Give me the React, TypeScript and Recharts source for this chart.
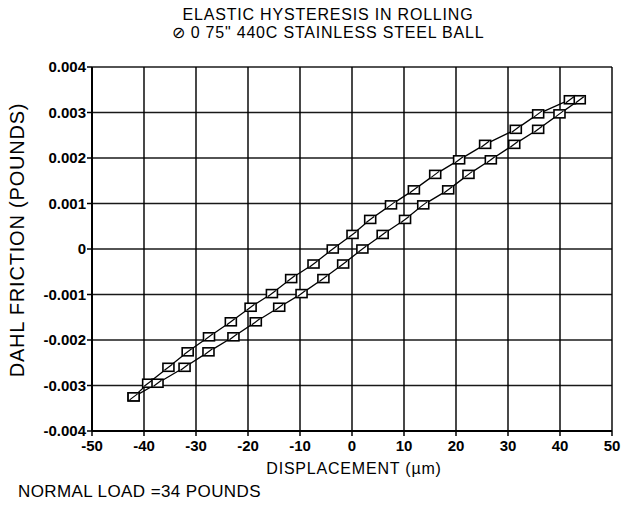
import React from 'react';
import { ScatterChart, Scatter, XAxis, YAxis, CartesianGrid } from 'recharts';

// loop goes up the left branch, then back down the right branch
const upperX = [-42, -39.2, -35.3, -31.6, -27.5, -23.3, -19.5, -15.4, -11.7, -7.4, -3.7, 0.1, 3.5, 7.5, 11.9, 16, 20.6, 25.6, 31.5, 35.8, 41.9];
const upperY = [-0.00325, -0.00295, -0.0026, -0.00226, -0.00193, -0.0016, -0.00128, -0.00098, -0.00065, -0.00033, 0, 0.00032, 0.00065, 0.00097, 0.0013, 0.00164, 0.00196, 0.0023, 0.00263, 0.00297, 0.00328];
const lowerX = [43.8, 39.9, 35.8, 31.2, 26.7, 22.4, 18.5, 13.7, 10.2, 5.9, 2, -1.7, -5.5, -9.7, -14, -18.5, -22.8, -27.6, -32.2, -37.4, -42];
const lowerY = [0.00328, 0.00297, 0.00263, 0.0023, 0.00196, 0.00164, 0.0013, 0.00097, 0.00065, 0.00032, 0, -0.00033, -0.00065, -0.00098, -0.00128, -0.0016, -0.00193, -0.00226, -0.0026, -0.00295, -0.00325];

const xTicks = [-50, -40, -30, -20, -10, 0, 10, 20, 30, 40, 50];
const yTicks = [-0.004, -0.003, -0.002, -0.001, 0, 0.001, 0.002, 0.003, 0.004];

const loop = [
  ...upperX.map((x, i) => ({ x, y: upperY[i] })),
  ...lowerX.map((x, i) => ({ x, y: lowerY[i] })),
];

const font = '"Liberation Sans", Arial, sans-serif';

function SlashBox(props: any) {
  const { cx, cy } = props;
  if (cx == null || cy == null) return null;
  return (
    <g>
      <rect x={cx - 5.5} y={cy - 4} width={11} height={8} fill="#fff" stroke="#000" strokeWidth={1.6} />
      <line x1={cx - 4} y1={cy + 3} x2={cx + 4} y2={cy - 3} stroke="#000" strokeWidth={1.2} />
    </g>
  );
}

const fmtY = (v: number) => (v === 0 ? '0' : v.toFixed(3));

const tickStyle = { fill: '#000', fontSize: 15, fontWeight: 'bold', fontFamily: font };

export default function App() {
  return (
    <div style={{ position: 'absolute', left: 0, top: 0, width: 623, height: 509, background: '#fff', fontFamily: font, color: '#000' }}>
      <div style={{ position: 'absolute', left: 0, width: 656, top: 6, textAlign: 'center', fontSize: 16, lineHeight: '18px', letterSpacing: 0.8 }}>
        ELASTIC HYSTERESIS IN ROLLING
        <br />
        ⊘ 0 75" 440C STAINLESS STEEL BALL
      </div>
      <ScatterChart width={623} height={509} margin={{ top: 67, right: 11, bottom: 48, left: 12 }}>
        <CartesianGrid stroke="#000" strokeWidth={1.6} strokeOpacity={0.9} />
        <XAxis
          type="number"
          dataKey="x"
          domain={[-50, 50]}
          ticks={xTicks}
          height={30}
          tickSize={5}
          tickMargin={4}
          axisLine={{ stroke: '#000', strokeWidth: 2 }}
          tickLine={{ stroke: '#000', strokeWidth: 1.5 }}
          tick={tickStyle}
        />
        <YAxis
          type="number"
          dataKey="y"
          domain={[-0.004, 0.004]}
          ticks={yTicks}
          width={80}
          tickSize={5}
          tickMargin={1}
          tickFormatter={fmtY}
          axisLine={{ stroke: '#000', strokeWidth: 2 }}
          tickLine={{ stroke: '#000', strokeWidth: 1.5 }}
          tick={tickStyle}
        />
        <Scatter
          data={loop}
          line={{ stroke: '#000', strokeWidth: 1.3 }}
          lineType="joint"
          shape={SlashBox}
          isAnimationActive={false}
        />
      </ScatterChart>
      <div style={{ position: 'absolute', left: 94, width: 520, top: 460, textAlign: 'center', fontSize: 16, letterSpacing: 0.8 }}>
        DISPLACEMENT (µm)
      </div>
      <div style={{ position: 'absolute', left: 18, top: 482, fontSize: 17, letterSpacing: 0.4 }}>
        NORMAL LOAD =34 POUNDS
      </div>
      <div
        style={{
          position: 'absolute',
          left: 17,
          top: 240,
          fontSize: 20,
          letterSpacing: 0.8,
          whiteSpace: 'nowrap',
          transform: 'translate(-50%, -50%) rotate(-90deg)',
        }}
      >
        DAHL FRICTION (POUNDS)
      </div>
    </div>
  );
}
